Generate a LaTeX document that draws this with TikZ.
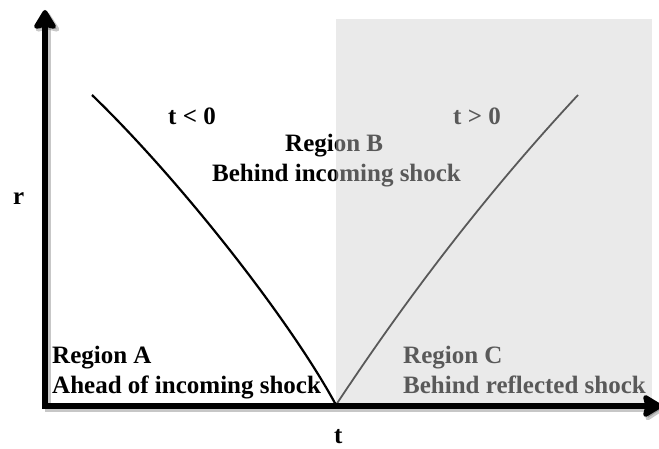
\documentclass[tikz,border=0pt]{standalone}
\usepackage{fontspec}
\setmainfont{Liberation Serif}
\usetikzlibrary{arrows.meta}
\definecolor{veil}{gray}{0.81}
\tikzset{
  lbl/.style={inner sep=0pt, anchor=base west, font=\fontsize{25}{28}\selectfont\bfseries},
  axis/.style={line width=6pt, -{Stealth[length=22pt,width=26pt,inset=3pt,round]}},
  axshadow/.style={line width=7pt, draw=black, opacity=0.22, -{Stealth[length=22pt,width=28pt,inset=3pt,round]}},
  shockA/.style={line width=2.2pt, black},
  shockB/.style={line width=1.8pt, black},
  overlay/.style={fill=veil, fill opacity=0.43, draw=none}
}
\begin{document}
\begin{tikzpicture}[x=1pt,y=-1pt]
\useasboundingbox (0,0) rectangle (659,449);
% key points
\coordinate (O) at (45,406);
\coordinate (Ytip) at (45,10);
\coordinate (X0) at (42,406);
\coordinate (Xtip) at (662,406);
\coordinate (S) at (336,405);
\coordinate (A0) at (92,95);
\coordinate (C1) at (578,95);
% texts
\node[lbl] (tneg) at (168,125) {t < 0};
\node[lbl] (tpos) at (453,125) {t > 0};
\node[lbl] (regB) at (285,152) {Region B};
\node[lbl] (behB) at (212,182) {Behind incoming shock};
\node[lbl] (regA) at (52,363) {Region A};
\node[lbl] (ahdA) at (52,393) {Ahead of incoming shock};
\node[lbl] (regC) at (403,363) {Region C};
\node[lbl] (behC) at (403,393) {Behind reflected shock};
\node[lbl] (rlab) at (13,205) {r};
\node[lbl] (tlab) at (334,443) {t};
% shock curves
\draw[shockA] (A0) .. controls (180,180) and (290,320) .. (S);
\draw[shockB] (S) .. controls (402,305) and (482,198) .. (C1);
% shaded region
\fill[overlay] (336,19) rectangle (652,404);
% axes with soft shadow
\draw[axshadow] ([shift={(2.5,2.5)}]O) -- ([shift={(2.5,2.5)}]Ytip);
\draw[axshadow] ([shift={(2.5,2.5)}]X0) -- ([shift={(2.5,2.5)}]Xtip);
\draw[axis] (O) -- (Ytip);
\draw[axis] (X0) -- (Xtip);
\end{tikzpicture}
\end{document}
